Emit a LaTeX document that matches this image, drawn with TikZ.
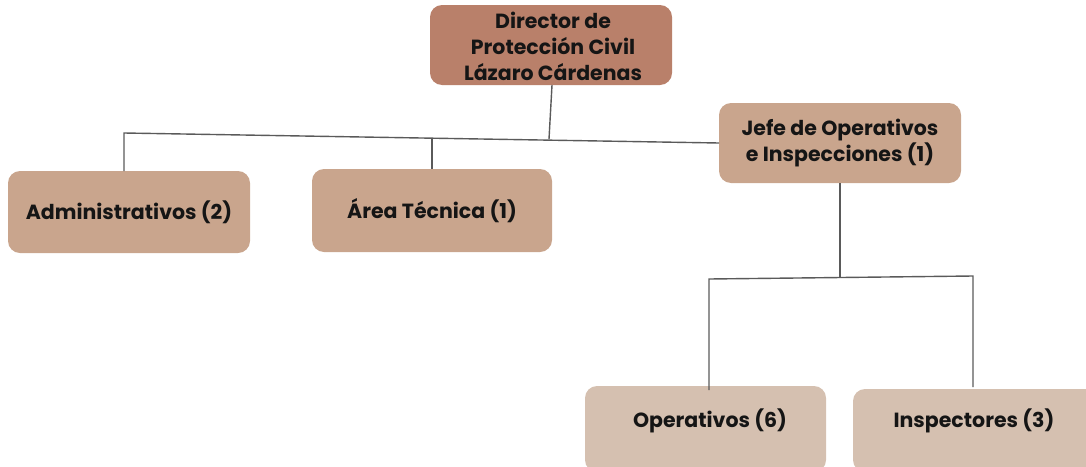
\documentclass[tikz,border=0pt]{standalone}
\usepackage{fontspec}
\setmainfont{Poppins}[BoldFont={* Bold}]
\definecolor{topc}{HTML}{B9806A}
\definecolor{midc}{HTML}{C9A58D}
\definecolor{lowc}{HTML}{D5C0B0}
\definecolor{linec}{HTML}{5A5A5A}
\definecolor{txtc}{HTML}{151515}
\tikzset{
  box/.style={rounded corners=12pt, draw=none, text=txtc, font=\bfseries\fontsize{20.5}{26}\selectfont, align=center},
  conn/.style={draw=linec, line width=1.4pt}
}
\begin{document}
\begin{tikzpicture}[x=1pt,y=-1pt]
\useasboundingbox (0,0) rectangle (1086,466);
% boxes
\fill[topc, rounded corners=12pt] (430,5) rectangle (672,85);
\node[box] (dir) at (553,46) {Director de\\Protección Civil\\Lázaro Cárdenas};
\fill[midc, rounded corners=12pt] (719,103) rectangle (961,183);
\node[box] (jefe) at (840,143) {Jefe de Operativos\\e Inspecciones (1)};
\fill[midc, rounded corners=12pt] (8,171) rectangle (250,253);
\node[box] (adm) at (129,212) {Administrativos (2)};
\fill[midc, rounded corners=12pt] (312,169) rectangle (552,252);
\node[box] (area) at (432,211) {Área Técnica (1)};
\fill[lowc, rounded corners=12pt] (585,386) rectangle (826,472);
\node[box] (ope) at (710,421) {Operativos (6)};
\fill[lowc, rounded corners=12pt] (853,389) rectangle (1100,472);
\node[box] (ins) at (974,421) {Inspectores (3)};
% coordinates
\coordinate (dirb) at (552,85);
\coordinate (dirj) at (549,139);
\coordinate (hl) at (124,133);
\coordinate (hr) at (719,143);
\coordinate (admt) at (124,171);
\coordinate (areaj) at (432,138);
\coordinate (areat) at (432,169);
\coordinate (jefeb) at (840,183);
\coordinate (jefej) at (840,277);
\coordinate (hl2) at (709,279);
\coordinate (hr2) at (973,276);
\coordinate (opet) at (709,390);
\coordinate (inst) at (973,387);
% connectors
\draw[conn] (dirb) -- (dirj);
\draw[conn] (admt) -- (hl) -- (hr);
\draw[conn] (areaj) -- (areat);
\draw[conn] (jefeb) -- (jefej);
\draw[conn] (opet) -- (hl2) -- (hr2) -- (inst);
\end{tikzpicture}
\end{document}
